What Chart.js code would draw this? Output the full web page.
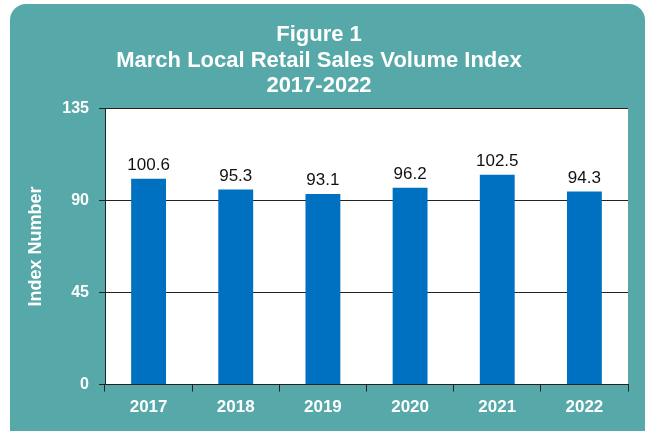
<!DOCTYPE html>
<html>
<head>
<meta charset="utf-8">
<script src="https://cdn.jsdelivr.net/npm/chart.js@4/dist/chart.umd.min.js"></script>
<style>
  html, body { margin: 0; padding: 0; background: #fff; }
  canvas { display: block; }
</style>
</head>
<body>
<canvas id="retailChart" width="647" height="431"></canvas>
<script>
// data
const years = ['2017', '2018', '2019', '2020', '2021', '2022'];
const indexValues = [100.6, 95.3, 93.1, 96.2, 102.5, 94.3];
const yTicks = [0, 45, 90, 135];
const titleLines = ['Figure 1', 'March Local Retail Sales Volume Index', '2017-2022'];

const FONT = "'Liberation Sans', Arial, sans-serif";
const TEAL = '#57a9a9';
const BAR = '#0070c0';

// teal rounded panel + white plot area behind everything
const panelBackground = {
    id: 'panelBackground',
    beforeDraw(chart) {
        const { ctx, chartArea } = chart;
        ctx.save();
        ctx.fillStyle = '#ffffff';
        ctx.fillRect(0, 0, chart.width, chart.height);
        ctx.fillStyle = TEAL;
        ctx.beginPath();
        ctx.roundRect(10, 4, 635, 450, 16);
        ctx.fill();
        ctx.fillStyle = '#ffffff';
        ctx.fillRect(chartArea.left, chartArea.top,
            chartArea.right - chartArea.left, chartArea.bottom - chartArea.top);
        ctx.restore();
    }
};

// value labels above each bar
const barValueLabels = {
    id: 'barValueLabels',
    afterDatasetsDraw(chart) {
        const { ctx } = chart;
        const meta = chart.getDatasetMeta(0);
        ctx.save();
        ctx.font = '17px ' + FONT;
        ctx.fillStyle = '#111111';
        ctx.textAlign = 'center';
        ctx.textBaseline = 'bottom';
        meta.data.forEach((bar, i) => {
            ctx.fillText(indexValues[i].toFixed(1), bar.x, bar.y - 5);
        });
        ctx.restore();
    }
};

new Chart(document.getElementById('retailChart'), {
    type: 'bar',
    data: {
        labels: years,
        datasets: [{
            label: 'Index Number',
            data: indexValues,
            backgroundColor: BAR,
            borderWidth: 0,
            barPercentage: 0.4,
            categoryPercentage: 1
        }]
    },
    options: {
        responsive: false,
        animation: false,
        devicePixelRatio: 1,
        layout: { padding: { left: 10, right: 19, top: 0, bottom: 7 } },
        plugins: {
            legend: { display: false },
            tooltip: { enabled: false },
            title: {
                display: true,
                text: titleLines,
                color: '#ffffff',
                font: { family: FONT, size: 22, weight: 'bold', lineHeight: 1.17 },
                padding: { top: 22, bottom: 9 }
            }
        },
        scales: {
            y: {
                min: 0,
                max: 135,
                afterBuildTicks: (scale) => { scale.ticks = yTicks.map(v => ({ value: v })); },
                afterFit: (scale) => { scale.width = 95; },
                grid: { color: '#222222', lineWidth: 1, tickLength: 6 },
                border: { color: '#222222', width: 1 },
                ticks: {
                    color: '#ffffff',
                    padding: 10,
                    font: { family: FONT, size: 16, weight: 'bold' }
                },
                title: {
                    display: true,
                    text: 'Index Number',
                    color: '#ffffff',
                    padding: { top: 15, bottom: 0 },
                    font: { family: FONT, size: 18, weight: 'bold' }
                }
            },
            x: {
                grid: { drawOnChartArea: false, color: '#222222', tickLength: 7, offset: true },
                border: { color: '#222222', width: 1 },
                ticks: {
                    color: '#ffffff',
                    padding: 6,
                    maxRotation: 0,
                    font: { family: FONT, size: 17, weight: 'bold' }
                }
            }
        }
    },
    plugins: [panelBackground, barValueLabels]
});
</script>
</body>
</html>
